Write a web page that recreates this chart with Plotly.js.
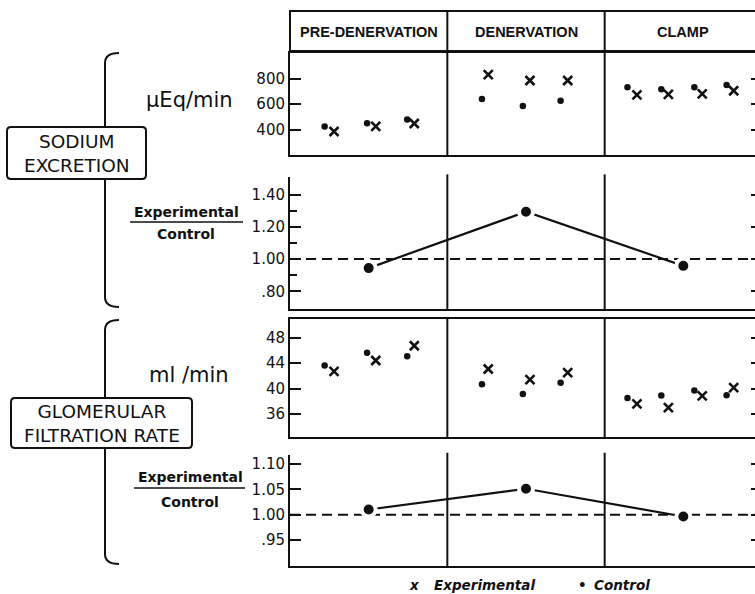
<!DOCTYPE html>
<html><head><meta charset="utf-8">
<script src="https://cdn.plot.ly/plotly-3.0.1.min.js"></script>
<style>html,body{margin:0;padding:0;overflow:hidden;background:#fff;width:755px;height:594px}#chart{width:762px;height:594px}</style>
</head><body><div id="chart"></div><script>
// ---- data ----
const phases = ['PRE-DENERVATION', 'DENERVATION', 'CLAMP'];
const phaseCenters = [0.5, 1.5, 2.5];
const sampleXControl = [0.22, 0.49, 0.745, 1.22, 1.48, 1.72, 2.145, 2.36, 2.57, 2.775];
const sampleXExperimental = [0.28, 0.545, 0.79, 1.26, 1.525, 1.765, 2.205, 2.405, 2.62, 2.82];
const naControl = [424, 450, 478, 639, 584, 626, 731, 715, 731, 749];
const naExperimental = [384, 424, 447, 831, 784, 784, 671, 676, 680, 704];
const naRatio = [0.944, 1.294, 0.958];
const gfrControl = [43.6, 45.6, 45.05, 40.67, 39.16, 40.9, 38.5, 38.9, 39.7, 38.95];
const gfrExperimental = [42.7, 44.4, 46.7, 43.06, 41.4, 42.5, 37.6, 37.0, 38.85, 40.15];
const gfrRatio = [1.0105, 1.0514, 0.9966];
const naTicks = [400, 600, 800];
const naRatioTicks = [0.8, 1.0, 1.2, 1.4];
const naRatioTickText = ['.80', '1.00', '1.20', '1.40'];
const naRatioMinor = [0.9, 1.1, 1.3];
const gfrTicks = [36, 40, 44, 48];
const gfrRatioTicks = [0.95, 1.0, 1.05, 1.10];
const gfrRatioTickText = ['.95', '1.00', '1.05', '1.10'];

// ---- geometry helpers ----
const W = 762, H = 594, L = 290;
const PW = W - L;
const px = x => (x - L) / PW;
const py = y => 1 - y / H;
const K = '#111';

function dom(top, bottom) { return [py(bottom), py(top)]; }

const markCtl = {symbol: 'circle', size: 6.5, color: K};
const markExp = {symbol: 'x-thin-open', size: 9, color: K, line: {width: 2.6, color: K}};
const ratioMark = {symbol: 'circle', size: 14, color: K, line: {width: 4, color: '#fff'}};

const traces = [
  {x: sampleXControl, y: naControl, xaxis: 'x', yaxis: 'y', mode: 'markers', marker: markCtl},
  {x: sampleXExperimental, y: naExperimental, xaxis: 'x', yaxis: 'y', mode: 'markers', marker: markExp},
  {x: phaseCenters, y: naRatio, xaxis: 'x2', yaxis: 'y2', mode: 'lines', line: {color: K, width: 2.2}},
  {x: phaseCenters, y: naRatio, xaxis: 'x2', yaxis: 'y2', mode: 'markers', marker: ratioMark},
  {x: sampleXControl, y: gfrControl, xaxis: 'x3', yaxis: 'y3', mode: 'markers', marker: markCtl},
  {x: sampleXExperimental, y: gfrExperimental, xaxis: 'x3', yaxis: 'y3', mode: 'markers', marker: markExp},
  {x: phaseCenters, y: gfrRatio, xaxis: 'x4', yaxis: 'y4', mode: 'lines', line: {color: K, width: 2.2}},
  {x: phaseCenters, y: gfrRatio, xaxis: 'x4', yaxis: 'y4', mode: 'markers', marker: ratioMark}
].map(t => Object.assign({showlegend: false, hoverinfo: 'skip', cliponaxis: false}, t));

const tickFont = {family: 'DejaVu Sans', size: 15, color: K};
function xax(anchor, mirror) {
  return {domain: [0, 1], anchor: anchor, range: [0, 3], showticklabels: false, ticks: '',
    showgrid: false, zeroline: false, showline: true, linewidth: 2, linecolor: K, mirror: mirror, fixedrange: true};
}
function yax(anchor, d, range, vals, text, extra) {
  return Object.assign({domain: d, anchor: anchor, range: range, tickmode: 'array', tickvals: vals,
    ticktext: text || vals.map(String), ticks: 'inside', ticklen: 11, tickwidth: 2, tickcolor: K,
    showline: true, linewidth: 2, linecolor: K, mirror: 'ticks', showgrid: false, zeroline: false,
    tickfont: tickFont, fixedrange: true}, extra || {});
}

const d1 = dom(53, 155), d2 = dom(177, 309), d3 = dom(319, 437), d4 = dom(455, 566);

const shapes = [];
// header box
shapes.push({type: 'rect', xref: 'paper', yref: 'paper', x0: 0, x1: 1.02, y0: py(51), y1: py(11), line: {color: K, width: 2}});
[1, 2].forEach(v => {
  shapes.push({type: 'line', xref: 'x', yref: 'paper', x0: v, x1: v, y0: py(53), y1: py(11), line: {color: K, width: 2}});
  ['y', 'y2', 'y3', 'y4'].forEach((ya, i) => {
    shapes.push({type: 'line', xref: 'x', yref: ya + ' domain', x0: v, x1: v, y0: 0, y1: (i % 2 ? 1.02 : 1), line: {color: K, width: 2}});
  });
});
// dashed unity lines
shapes.push({type: 'line', xref: 'x2', yref: 'y2', x0: 0, x1: 3, y0: 1, y1: 1, layer: 'below', line: {color: K, width: 2, dash: '10px,6px'}});
shapes.push({type: 'line', xref: 'x4', yref: 'y4', x0: 0, x1: 3, y0: 1, y1: 1, layer: 'below', line: {color: K, width: 2, dash: '10px,6px'}});
// braces
function brace(xl, top, bottom) {
  const r = 10, xr = xl + 14;
  return {type: 'path', xref: 'paper', yref: 'paper', line: {color: K, width: 2},
    path: `M ${px(xr)},${py(top)} Q ${px(xl)},${py(top)} ${px(xl)},${py(top + r)} L ${px(xl)},${py(bottom - r)} Q ${px(xl)},${py(bottom)} ${px(xr)},${py(bottom)}`};
}
shapes.push(brace(105, 53, 307));
shapes.push(brace(105, 320, 564));
function rbox(x0, y0, x1, y1) {
  const r = 4;
  return {type: 'path', xref: 'paper', yref: 'paper', line: {color: K, width: 2}, fillcolor: '#fff',
    path: `M ${px(x0 + r)},${py(y0)} L ${px(x1 - r)},${py(y0)} Q ${px(x1)},${py(y0)} ${px(x1)},${py(y0 + r)} L ${px(x1)},${py(y1 - r)} Q ${px(x1)},${py(y1)} ${px(x1 - r)},${py(y1)} L ${px(x0 + r)},${py(y1)} Q ${px(x0)},${py(y1)} ${px(x0)},${py(y1 - r)} L ${px(x0)},${py(y0 + r)} Q ${px(x0)},${py(y0)} ${px(x0 + r)},${py(y0)} Z`};
}
shapes.push(rbox(7, 127, 146, 179));
shapes.push(rbox(11, 398, 192, 448));
// fraction bars
shapes.push({type: 'line', xref: 'paper', yref: 'paper', x0: px(130), x1: px(243), y0: py(222), y1: py(222), line: {color: K, width: 1.6}});
shapes.push({type: 'line', xref: 'paper', yref: 'paper', x0: px(134), x1: px(245), y0: py(488), y1: py(488), line: {color: K, width: 1.6}});

const ann = [];
function txt(text, x, y, font, extra) {
  ann.push(Object.assign({text: text, xref: 'paper', yref: 'paper', x: px(x), y: py(y), showarrow: false,
    xanchor: 'center', yanchor: 'middle', font: Object.assign({color: K}, font)}, extra || {}));
}
phases.forEach((p, i) => ann.push({text: p, xref: 'x', yref: 'paper', x: phaseCenters[i], y: py(32), showarrow: false,
  xanchor: 'center', yanchor: 'middle', font: {family: 'Liberation Sans', size: 14.5, color: K, weight: 'bold'}}));
const big = {family: 'DejaVu Sans', size: 21};
const boxF = {family: 'DejaVu Sans', size: 18.5};
const fracF = {family: 'DejaVu Sans', size: 14, weight: 'bold'};
txt('µEq/min', 189, 100, big);
txt('ml /min', 189, 375, big);
txt('SODIUM<br>EXCRETION', 76.5, 153, boxF);
txt('GLOMERULAR<br>FILTRATION RATE', 101.5, 423, boxF);
txt('Experimental', 186, 212, fracF);
txt('Control', 186, 234, fracF);
txt('Experimental', 190, 477, fracF);
txt('Control', 190, 502, fracF);
const legF = {family: 'DejaVu Sans', size: 13.5, weight: 'bold', style: 'italic'};
txt('x', 414, 585, legF);
txt('Experimental', 432, 585, legF, {xanchor: 'left'});
txt('•', 582, 585, legF);
txt('Control', 592, 585, legF, {xanchor: 'left'});

const layout = {
  width: W, height: H, margin: {l: L, r: 0, t: 0, b: 0, pad: 0},
  paper_bgcolor: '#fff', plot_bgcolor: 'rgba(0,0,0,0)', showlegend: false,
  xaxis: xax('y', true), xaxis2: xax('y2', false), xaxis3: xax('y3', true), xaxis4: xax('y4', false),
  yaxis: yax('x', d1, [200, 1000], naTicks),
  yaxis2: yax('x2', d2, [0.69, 1.51], naRatioTicks, naRatioTickText,
    {minor: {tickmode: 'array', tickvals: naRatioMinor, ticks: 'inside', ticklen: 7, tickwidth: 2, tickcolor: K, showgrid: false}}),
  yaxis3: yax('x3', d3, [32.4, 50.9], gfrTicks),
  yaxis4: yax('x4', d4, [0.899, 1.118], gfrRatioTicks, gfrRatioTickText),
  shapes: shapes, annotations: ann
};
Plotly.newPlot('chart', traces, layout, {staticPlot: true, displayModeBar: false});
</script></body></html>
